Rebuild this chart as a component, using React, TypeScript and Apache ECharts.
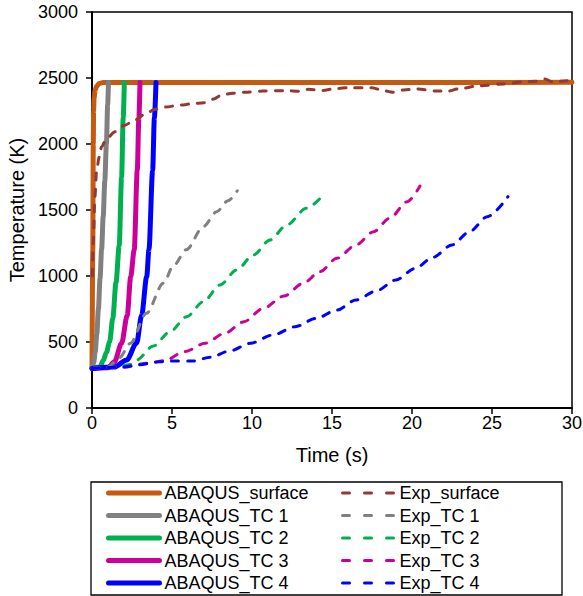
import React, { useEffect, useRef } from "react";
import * as echarts from "echarts";

const FONT = "'Liberation Sans', Arial, sans-serif";

// ABAQUS simulation curves (time s, temperature K)
const abqSurfT = [0, 0.05, 0.08, 0.1, 0.13, 0.2, 0.3, 0.45, 0.7, 30];
const abqSurfY = [300, 1200, 2000, 2250, 2350, 2410, 2440, 2458, 2466, 2467];

const abqTc1T = [0, 0.1, 0.2, 0.3, 0.4, 0.5, 0.6, 0.7, 0.8, 0.9, 0.98, 1.03];
const abqTc1Y = [300, 340, 420, 560, 750, 980, 1200, 1450, 1720, 2000, 2300, 2465];

const abqTc2T = [0, 0.5, 0.7, 0.9, 1.1, 1.3, 1.5, 1.7, 1.85, 1.95, 2.02];
const abqTc2Y = [300, 310, 360, 420, 500, 680, 950, 1230, 1750, 2200, 2465];

const abqTc3T = [0, 1, 1.4, 1.85, 2.2, 2.42, 2.64, 2.83, 2.93, 3.0];
const abqTc3Y = [300, 305, 350, 490, 700, 995, 1200, 1800, 2200, 2465];

const abqTc4T = [0, 1.4, 2.17, 2.79, 3.1, 3.42, 3.56, 3.79, 3.9, 4.0];
const abqTc4Y = [300, 310, 364, 492, 700, 995, 1200, 1800, 2200, 2465];

// Experimental curves
const expSurfT = [0.02, 0.08, 0.18, 0.29, 0.45, 0.6, 0.9, 1.44, 2.0, 2.69, 3.3, 3.94, 4.6, 5.5, 6.3, 7.0, 7.6, 8.1, 8.8, 9.56, 10.7, 12.06, 13.0, 13.5, 14.4, 15.2, 16.1, 17.5, 18.2, 18.8, 19.5, 20.3, 21.5, 22.2, 22.9, 24.25, 25.7, 27.06, 27.8, 28.3, 28.8, 29.7, 30];
const expSurfY = [1000, 1250, 1600, 1803, 1900, 1980, 2040, 2093, 2140, 2182, 2225, 2263, 2280, 2295, 2305, 2313, 2340, 2371, 2385, 2392, 2401, 2404, 2400, 2414, 2405, 2420, 2427, 2427, 2405, 2392, 2410, 2417, 2401, 2400, 2417, 2442, 2455, 2472, 2475, 2492, 2470, 2480, 2475];

const expTc1T = [0, 1, 1.7, 2.4, 3.4, 4.46, 5.1, 5.9, 6.96, 7.79, 8.5, 9.08];
const expTc1Y = [300, 310, 380, 490, 717, 945, 1080, 1200, 1374, 1487, 1570, 1646];

const expTc2T = [0, 1.5, 2.4, 2.8, 3.83, 4.875, 5.92, 6.96, 8.0, 9.04, 10.08, 11.125, 12.17, 13.4, 14.4];
const expTc2Y = [300, 310, 330, 364, 470, 578, 692, 805, 932, 1045, 1159, 1273, 1386, 1513, 1606];

const expTc3T = [0, 2, 3.5, 4.5, 5.8, 7.06, 8.3, 9.5, 10.7, 12, 13.2, 14.25, 15.3, 16.5, 17.6, 18.6, 19.7, 20.5];
const expTc3Y = [300, 310, 340, 358, 427, 490, 566, 654, 755, 848, 945, 1033, 1134, 1235, 1336, 1437, 1563, 1682];

const expTc4T = [0, 2, 2.8, 4.25, 4.9, 6.3, 7.4, 8.6, 9.9, 11.3, 12.7, 14, 15.3, 16.5, 17.8, 19, 20.2, 21.3, 22.5, 23.6, 24.7, 26];
const expTc4Y = [300, 310, 326, 350, 356, 356, 384, 432, 490, 553, 616, 679, 742, 818, 889, 970, 1058, 1141, 1235, 1336, 1449, 1601];

const xTicks = { min: 0, max: 30, interval: 5 };
const yTicks = { min: 0, max: 3000, interval: 500 };

const abqNames = ["ABAQUS_surface", "ABAQUS_TC 1", "ABAQUS_TC 2", "ABAQUS_TC 3", "ABAQUS_TC 4"];
const expNames = ["Exp_surface", "Exp_TC 1", "Exp_TC 2", "Exp_TC 3", "Exp_TC 4"];
const abqColors = ["#C55A11", "#808080", "#00B050", "#CC0099", "#0000FF"];
const expColors = ["#953735", "#808080", "#00B050", "#CC0099", "#0000FF"];

const zip = (t: number[], y: number[]) => t.map((v, i) => [v, y[i]]);

export default function App() {
  const ref = useRef<HTMLDivElement>(null);
  useEffect(() => {
    if (!ref.current) return;
    const chart = echarts.init(ref.current, null, { renderer: "svg" });
    const abqData = [
      zip(abqSurfT, abqSurfY),
      zip(abqTc1T, abqTc1Y),
      zip(abqTc2T, abqTc2Y),
      zip(abqTc3T, abqTc3Y),
      zip(abqTc4T, abqTc4Y),
    ];
    const expData = [
      zip(expSurfT, expSurfY),
      zip(expTc1T, expTc1Y),
      zip(expTc2T, expTc2Y),
      zip(expTc3T, expTc3Y),
      zip(expTc4T, expTc4Y),
    ];
    const series: any[] = [];
    abqNames.forEach((n, i) =>
      series.push({
        name: n,
        type: "line",
        data: abqData[i],
        symbol: "none",
        smooth: 0.3,
        smoothMonotone: "x",
        lineStyle: { color: abqColors[i], width: 5, cap: "round", join: "round" },
        itemStyle: { color: abqColors[i] },
      })
    );
    expNames.forEach((n, i) =>
      series.push({
        name: n,
        type: "line",
        data: expData[i],
        symbol: "none",
        smooth: 0.3,
        smoothMonotone: "x",
        lineStyle: { color: expColors[i], width: 3, type: [7, 9], cap: "round", join: "round" },
        itemStyle: { color: expColors[i] },
      })
    );
    const legendCommon = {
      orient: "vertical",
      top: 484,
      padding: 0,
      itemHeight: 18,
      itemGap: 4.5,
      selectedMode: false,
      itemStyle: { opacity: 0 },
      textStyle: { fontSize: 18, color: "#000", fontFamily: FONT, lineHeight: 18 },
    };
    chart.setOption({
      animation: false,
      textStyle: { fontFamily: FONT },
      grid: {
        left: 92,
        top: 12,
        width: 480,
        height: 396,
        containLabel: false,
        outerBoundsMode: "none",
        show: true,
        borderColor: "#000",
        borderWidth: 1.5,
        backgroundColor: "transparent",
      },
      xAxis: {
        type: "value",
        ...xTicks,
        name: "Time (s)",
        nameLocation: "middle",
        nameGap: 37,
        nameTextStyle: { fontSize: 20, color: "#000", fontFamily: FONT },
        axisLine: { lineStyle: { color: "#000", width: 2 } },
        axisTick: { show: true, length: 6, lineStyle: { color: "#000", width: 1.5 } },
        axisLabel: { fontSize: 18, color: "#000", margin: 6, fontFamily: FONT, formatter: (v: number) => String(v) },
        splitLine: { show: false },
      },
      yAxis: {
        type: "value",
        ...yTicks,
        name: "Temperature (K)",
        nameLocation: "middle",
        nameGap: 65,
        nameTextStyle: { fontSize: 20, color: "#000", fontFamily: FONT },
        axisLine: { lineStyle: { color: "#000", width: 2 } },
        axisTick: { show: true, length: 6, lineStyle: { color: "#000", width: 1.5 } },
        axisLabel: { fontSize: 18, color: "#000", margin: 14, fontFamily: FONT, formatter: (v: number) => String(v) },
        splitLine: { show: false },
      },
      legend: [
        {
          ...legendCommon,
          left: 106,
          itemWidth: 51,
          lineStyle: { width: 5 },
          data: abqNames,
        },
        {
          ...legendCommon,
          left: 341,
          itemWidth: 52,
          lineStyle: { width: 3, type: [7, 15] },
          data: expNames,
        },
      ],
      graphic: [
        {
          type: "rect",
          shape: { x: 91, y: 482, width: 471, height: 113 },
          style: { fill: "none", stroke: "#000", lineWidth: 1.3 },
          silent: true,
        },
      ],
      series,
    });
    return () => chart.dispose();
  }, []);
  return (
    <div
      ref={ref}
      style={{ position: "absolute", left: 0, top: 0, width: 583, height: 596, background: "#fff" }}
    />
  );
}
